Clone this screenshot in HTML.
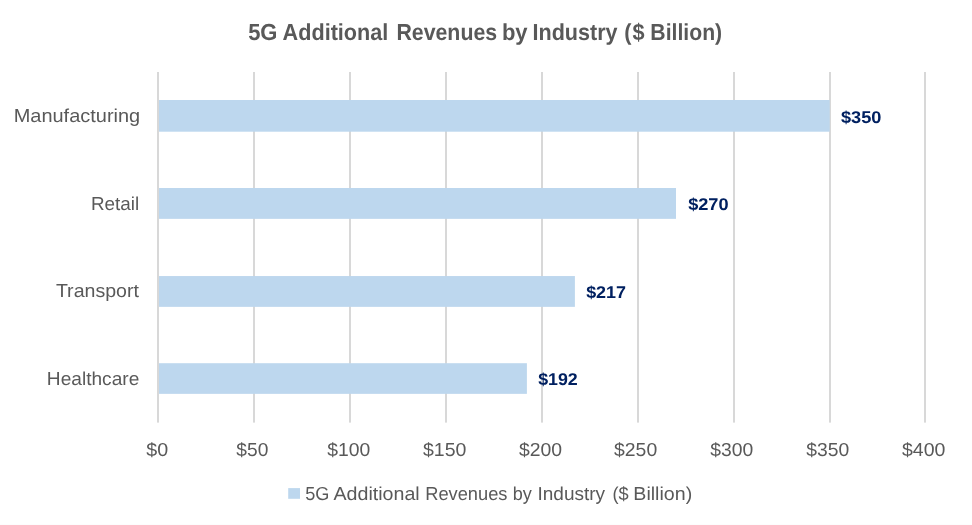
<!DOCTYPE html>
<html><head><meta charset="utf-8"><title>5G Additional Revenues by Industry</title>
<style>html,body{margin:0;padding:0;background:#fff;}svg{display:block;will-change:transform;}text{font-family:"Liberation Sans",sans-serif;text-rendering:geometricPrecision;}</style></head><body>
<svg width="972" height="525" viewBox="0 0 972 525">
<rect x="0" y="0" width="972" height="525" fill="#ffffff"/>
<rect x="253" y="72" width="2" height="350.6" fill="#D8D8D8"/>
<rect x="349" y="72" width="2" height="350.6" fill="#D8D8D8"/>
<rect x="445" y="72" width="2" height="350.6" fill="#D8D8D8"/>
<rect x="541" y="72" width="2" height="350.6" fill="#D8D8D8"/>
<rect x="637" y="72" width="2" height="350.6" fill="#D8D8D8"/>
<rect x="733" y="72" width="2" height="350.6" fill="#D8D8D8"/>
<rect x="829" y="72" width="2" height="350.6" fill="#D8D8D8"/>
<rect x="924" y="72" width="2" height="350.6" fill="#D8D8D8"/>
<rect x="158.8" y="100" width="670.9" height="31.70" fill="#BDD7EE"/>
<rect x="158.8" y="188" width="517.2" height="30.85" fill="#BDD7EE"/>
<rect x="158.8" y="276.05" width="416.1" height="30.80" fill="#BDD7EE"/>
<rect x="158.8" y="363.2" width="368.1" height="30.65" fill="#BDD7EE"/>
<rect x="157" y="72" width="2" height="350.6" fill="#D8D8D8"/>
<rect x="0" y="524" width="972" height="1" fill="#FDFDFD"/>
<rect x="288.2" y="488.1" width="11.8" height="10.7" fill="#BDD7EE"/>
<text x="248.13" y="40.0" font-size="23.2" font-weight="bold" fill="#595959" textLength="29.35" lengthAdjust="spacingAndGlyphs">5G</text>
<text x="282.59" y="40.0" font-size="23.2" font-weight="bold" fill="#595959" textLength="105.77" lengthAdjust="spacingAndGlyphs">Additional</text>
<text x="396.40" y="40.0" font-size="23.2" font-weight="bold" fill="#595959" textLength="100.74" lengthAdjust="spacingAndGlyphs">Revenues</text>
<text x="501.89" y="40.0" font-size="23.2" font-weight="bold" fill="#595959" textLength="25.73" lengthAdjust="spacingAndGlyphs">by</text>
<text x="532.54" y="40.0" font-size="23.2" font-weight="bold" fill="#595959" textLength="85.08" lengthAdjust="spacingAndGlyphs">Industry</text>
<text x="624.13" y="40.0" font-size="23.2" font-weight="bold" fill="#595959" textLength="7.21" lengthAdjust="spacingAndGlyphs">(</text>
<text x="632.59" y="40.0" font-size="23.2" font-weight="bold" fill="#595959" textLength="12.07" lengthAdjust="spacingAndGlyphs">$</text>
<text x="650.35" y="40.0" font-size="23.2" font-weight="bold" fill="#595959" textLength="71.79" lengthAdjust="spacingAndGlyphs">Billion)</text>
<text x="13.68" y="122.0" font-size="18.75" font-weight="normal" fill="#595959" textLength="126.53" lengthAdjust="spacingAndGlyphs">Manufacturing</text>
<text x="90.94" y="210.0" font-size="18.75" font-weight="normal" fill="#595959" textLength="48.20" lengthAdjust="spacingAndGlyphs">Retail</text>
<text x="55.90" y="297.0" font-size="18.75" font-weight="normal" fill="#595959" textLength="83.07" lengthAdjust="spacingAndGlyphs">Transport</text>
<text x="46.87" y="385.0" font-size="18.75" font-weight="normal" fill="#595959" textLength="92.41" lengthAdjust="spacingAndGlyphs">Healthcare</text>
<text x="146.34" y="456.0" font-size="18.75" font-weight="normal" fill="#595959" textLength="21.88" lengthAdjust="spacingAndGlyphs">$0</text>
<text x="236.37" y="456.0" font-size="18.75" font-weight="normal" fill="#595959" textLength="31.96" lengthAdjust="spacingAndGlyphs">$50</text>
<text x="327.34" y="456.0" font-size="18.75" font-weight="normal" fill="#595959" textLength="42.97" lengthAdjust="spacingAndGlyphs">$100</text>
<text x="423.04" y="456.0" font-size="18.75" font-weight="normal" fill="#595959" textLength="43.36" lengthAdjust="spacingAndGlyphs">$150</text>
<text x="519.05" y="456.0" font-size="18.75" font-weight="normal" fill="#595959" textLength="43.09" lengthAdjust="spacingAndGlyphs">$200</text>
<text x="614.05" y="456.0" font-size="18.75" font-weight="normal" fill="#595959" textLength="43.12" lengthAdjust="spacingAndGlyphs">$250</text>
<text x="710.23" y="456.0" font-size="18.75" font-weight="normal" fill="#595959" textLength="42.95" lengthAdjust="spacingAndGlyphs">$300</text>
<text x="806.23" y="456.0" font-size="18.75" font-weight="normal" fill="#595959" textLength="42.95" lengthAdjust="spacingAndGlyphs">$350</text>
<text x="902.04" y="456.0" font-size="18.75" font-weight="normal" fill="#595959" textLength="43.36" lengthAdjust="spacingAndGlyphs">$400</text>
<text x="840.98" y="123.0" font-size="17.0" font-weight="bold" fill="#002060" textLength="40.47" lengthAdjust="spacingAndGlyphs">$350</text>
<text x="688.15" y="210.0" font-size="17.0" font-weight="bold" fill="#002060" textLength="40.45" lengthAdjust="spacingAndGlyphs">$270</text>
<text x="586.15" y="298.0" font-size="17.0" font-weight="bold" fill="#002060" textLength="39.89" lengthAdjust="spacingAndGlyphs">$217</text>
<text x="538.16" y="385.0" font-size="17.0" font-weight="bold" fill="#002060" textLength="39.60" lengthAdjust="spacingAndGlyphs">$192</text>
<text x="305.22" y="500.0" font-size="18.75" font-weight="normal" fill="#595959" textLength="24.19" lengthAdjust="spacingAndGlyphs">5G</text>
<text x="333.54" y="500.0" font-size="18.75" font-weight="normal" fill="#595959" textLength="86.19" lengthAdjust="spacingAndGlyphs">Additional</text>
<text x="425.22" y="500.0" font-size="18.75" font-weight="normal" fill="#595959" textLength="82.26" lengthAdjust="spacingAndGlyphs">Revenues</text>
<text x="512.82" y="500.0" font-size="18.75" font-weight="normal" fill="#595959" textLength="19.07" lengthAdjust="spacingAndGlyphs">by</text>
<text x="537.53" y="500.0" font-size="18.75" font-weight="normal" fill="#595959" textLength="67.62" lengthAdjust="spacingAndGlyphs">Industry</text>
<text x="612.43" y="500.0" font-size="18.75" font-weight="normal" fill="#595959" textLength="16.16" lengthAdjust="spacingAndGlyphs">($</text>
<text x="633.33" y="500.0" font-size="18.75" font-weight="normal" fill="#595959" textLength="58.86" lengthAdjust="spacingAndGlyphs">Billion)</text>
</svg></body></html>
